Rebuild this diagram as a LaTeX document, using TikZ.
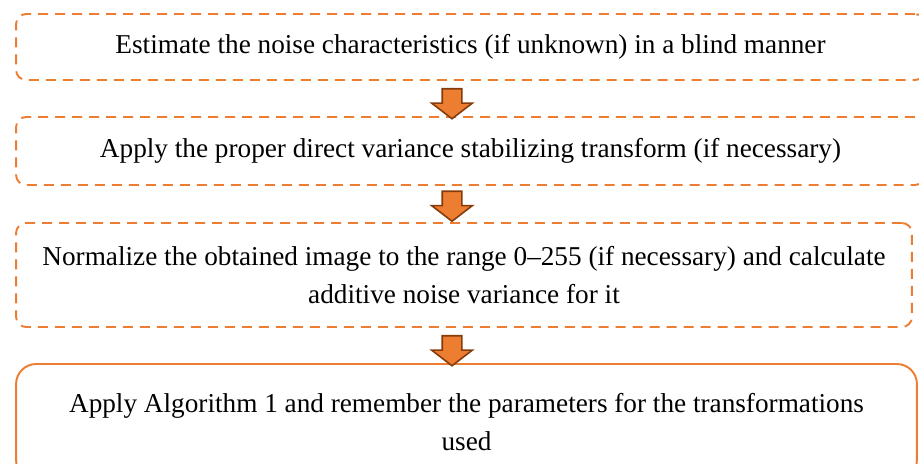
\documentclass[tikz,border=0pt]{standalone}
\usepackage{fontspec}
\setmainfont{Liberation Serif}
\usepackage{xcolor}
\usepackage{tikz}
\usetikzlibrary{shapes.arrows}
\definecolor{accOrange}{HTML}{ED7D31}
\definecolor{accBrown}{HTML}{843C0C}
\tikzset{
stepbox/.style = {rectangle, draw=accOrange, line width=1.1pt,
              rounded corners=#1, align=center, inner sep=0pt,
              font=\fontsize{15.5}{22}\selectfont},
stepbox/.default = 0.2cm % radius of the corners
}
\tikzset{
dashbox/.style = {stepbox, dash pattern=on 0.2cm off 0.14cm}
}
\tikzset{
downarrow/.style = {single arrow, draw=accBrown, fill=accOrange, line width=0.9pt,
              shape border rotate=270, minimum height=0.6cm, minimum width=0.78cm,
              single arrow head extend=0.21cm, single arrow tip angle=105,
              inner sep=0.18cm}
}

\begin{document}
\begin{tikzpicture}[x=0.02cm, y=-0.02cm]
  \useasboundingbox (0,0) rectangle (919,463);
  % Boxes
    \node[dashbox, minimum width=18.18cm, minimum height=1.32cm] (estBox) at (470.5,47)
      {Estimate the noise characteristics (if unknown) in a blind manner};
    \node[dashbox, minimum width=18.18cm, minimum height=1.36cm] (vstBox) at (470.5,151)
      {Apply the proper direct variance stabilizing transform (if necessary)};
    \node[dashbox, minimum width=17.92cm, minimum height=2.08cm] (normBox) at (464,275)
      {Normalize the obtained image to the range 0--255 (if necessary) and calculate\\
       additive noise variance for it};
    \node[stepbox=0.4cm, minimum width=18.02cm, minimum height=2.32cm] (algBox) at (466.5,422)
      {Apply Algorithm 1 and remember the parameters for the transformations\\ used};

  % Arrows
    \node[downarrow] (estArrow) at (452,100) {};
    \node[downarrow] (vstArrow) at (452,202.5) {};
    \node[downarrow] (normArrow) at (452,347) {};
  \end{tikzpicture}
\end{document}
